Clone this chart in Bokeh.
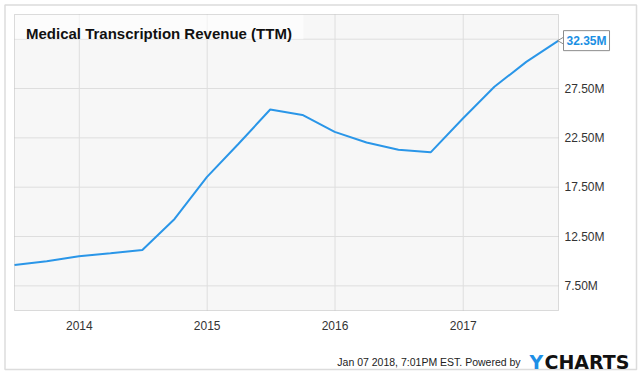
import math
from datetime import datetime, timezone
from bokeh.plotting import figure
from bokeh.models import Range1d, Label, BoxAnnotation
from bokeh.core.properties import value
from bokeh.embed import file_html
from bokeh.resources import INLINE

# ---- data ----
quarters = ["2013-06-30", "2013-09-30", "2013-12-31", "2014-03-31", "2014-06-30",
            "2014-09-30", "2014-12-31", "2015-03-31", "2015-06-30", "2015-09-30",
            "2015-12-31", "2016-03-31", "2016-06-30", "2016-09-30", "2016-12-31",
            "2017-03-31", "2017-06-30", "2017-09-30"]
revenue_m = [9.60, 10.00, 10.50, 10.80, 11.13, 14.28, 18.52, 21.87, 25.37, 24.82,
             23.10, 22.02, 21.30, 21.03, 24.46, 27.67, 30.20, 32.35]
x_tick_dates = ["2014-01-01", "2015-01-01", "2016-01-01", "2017-01-01"]
x_tick_labels = ["2014", "2015", "2016", "2017"]
y_tick_values_m = [7.5, 12.5, 17.5, 22.5, 27.5, 32.5]
y_tick_labels = ["7.50M", "12.50M", "17.50M", "22.50M", "27.50M", ""]
y_min_m, y_max_m = 5.0, 35.0
title_text = "Medical Transcription Revenue (TTM)"
footer_text = "Jan 07 2018, 7:01PM EST.  Powered by"
brand_first = "Y"
brand_rest = "CHARTS"
title_band_end = "2015-10-03"


def ms(s):
    return datetime.strptime(s, "%Y-%m-%d").replace(tzinfo=timezone.utc).timestamp() * 1000.0


xs = [ms(q) for q in quarters]
ys = [v * 1e6 for v in revenue_m]
xt = [ms(d) for d in x_tick_dates]
yt = [v * 1e6 for v in y_tick_values_m]
ymin, ymax = y_min_m * 1e6, y_max_m * 1e6

# ---- layout (pixels) ----
W, H = 640, 372
PL, PR, PT, PB = 14, 558, 14, 310        # plot area in page pixels
kx = (xs[-1] - xs[0]) / (PR - PL)         # ms per pixel
ky = (ymax - ymin) / (PB - PT)            # value per pixel


def xd(px):
    return xs[0] + (px - PL) * kx


def yd(py):
    return ymax - (py - PT) * ky


FONT = "Liberation Sans"

p = figure(width=W, height=H, min_border=0,
           x_axis_type=None, y_axis_type=None,
           x_range=Range1d(xd(0), xd(W)), y_range=Range1d(yd(H), yd(0)),
           output_backend="svg", toolbar_location=None,
           background_fill_color="white", border_fill_color="white")
p.outline_line_color = None
p.styles = {"position": "absolute", "left": "0px", "top": "0px"}

# plot area background
p.add_layout(BoxAnnotation(left=xs[0], right=xs[-1], bottom=ymin, top=ymax,
                           fill_color="#f7f7f7", fill_alpha=1, line_color=None,
                           level="underlay"))

# grid lines
n_x = len(xt)
n_y = len(yt)
p.segment(x0=xt, y0=[ymin] * n_x, x1=xt, y1=[ymax] * n_x,
          line_color="#dedede", line_width=1)
p.segment(x0=[xs[0]] * n_y, y0=yt, x1=[xs[-1]] * n_y, y1=yt,
          line_color="#dedede", line_width=1)

# title band
p.add_layout(BoxAnnotation(left=xs[0], right=ms(title_band_end), bottom=yt[-1], top=ymax,
                           fill_color="white", fill_alpha=0.6, line_color=None,
                           level="glyph"))

# series line
p.line(xs, ys, line_color="#2a96e8", line_width=2)

# plot area outline
p.add_layout(BoxAnnotation(left=xs[0], right=xs[-1], bottom=ymin, top=ymax,
                           fill_color=None, line_color="#8f8f8f", line_width=1))

# outer border
p.add_layout(BoxAnnotation(left=xd(4.5), right=xd(636), bottom=yd(369), top=yd(4.5),
                           fill_color=None, line_color="#8c8c8c", line_width=1.5))

# tick labels
p.text(x=xt, y=[ymin] * n_x, text=x_tick_labels, y_offset=15,
       text_align="center", text_baseline="alphabetic",
       text_font=value(FONT), text_font_size="12px", text_color="#333333")
ylab_y = [v for v, t in zip(yt, y_tick_labels) if t]
ylab_t = [t for t in y_tick_labels if t]
p.text(x=[xs[-1]] * len(ylab_y), y=ylab_y, text=ylab_t, x_offset=6,
       text_align="left", text_baseline="middle",
       text_font=value(FONT), text_font_size="12px", text_color="#333333")

# title
p.add_layout(Label(x=xd(25.5), y=yd(33), text=title_text,
                   text_font=FONT, text_font_style="bold", text_font_size="15px",
                   text_color="#111111", text_baseline="alphabetic", text_align="left"))

# last value tag: pointer + box
p.scatter(x=[xd(563.5)], y=[ys[-1]], marker="triangle", size=11, angle=math.pi / 2,
          fill_color="white", line_color="#8c8c8c", line_width=1)
p.add_layout(Label(x=xs[-1], y=ys[-1], text=f"{revenue_m[-1]:.2f}M", x_offset=5,
                   text_align="left", text_baseline="middle",
                   text_font=FONT, text_font_style="bold", text_font_size="12px",
                   text_color="#1a8fe3", background_fill_color="white",
                   border_line_color="#8c8c8c", border_line_width=1, padding=3))

# footer
p.add_layout(Label(x=xd(523), y=yd(361), text=footer_text,
                   text_align="right", text_baseline="alphabetic",
                   text_font=FONT, text_font_size="10.5px", text_color="#222222"))
p.add_layout(Label(x=xd(529), y=yd(361), text=brand_first,
                   text_align="left", text_baseline="alphabetic",
                   text_font="DejaVu Sans", text_font_style="bold", text_font_size="19px",
                   text_color="#1e8fe6"))
p.add_layout(Label(x=xd(544), y=yd(361), text=brand_rest,
                   text_align="left", text_baseline="alphabetic",
                   text_font="DejaVu Sans", text_font_style="bold", text_font_size="19px",
                   text_color="#111111"))

open("out.html", "w").write(file_html(p, INLINE))
